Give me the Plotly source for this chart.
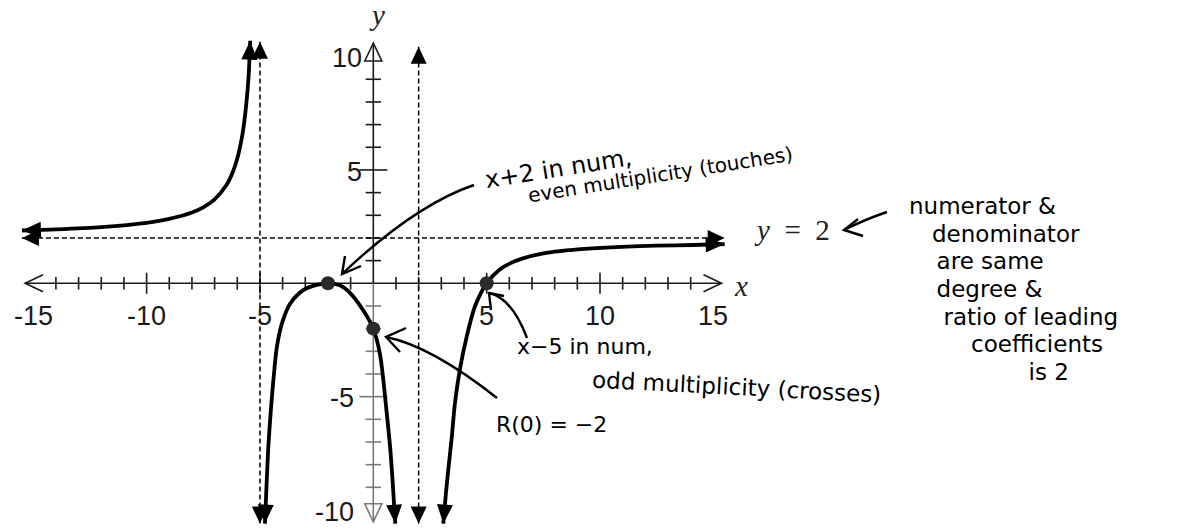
import math
import plotly.graph_objects as go

# ---------------------------------------------------------------
# Page geometry: the graph is laid out on a fixed 1188 x 529 page
# with one graph unit = UNIT pixels and the origin at (OX, OY).
# ---------------------------------------------------------------
W, H = 1188, 529
UNIT = 22.67
OX, OY = 373.3, 283.3


def at(px, py):
    """Page pixel position -> graph coordinates."""
    return (px - OX) / UNIT, (OY - py) / UNIT


# ------------------------------ data ------------------------------
# branch left of x = -5
left_x = [-15.5, -14.0, -12.0, -10.0, -9.0, -8.0, -7.5, -7.0, -6.5, -6.2,
          -6.0, -5.8, -5.7, -5.6, -5.5, -5.43]
left_y = [2.33, 2.38, 2.48, 2.67, 2.84, 3.12, 3.35, 3.70, 4.30, 4.90,
          5.50, 6.41, 7.06, 7.93, 9.15, 10.70]

# branch between x = -5 and x = 2
mid_x = [-4.78, -4.70, -4.63, -4.53, -4.41, -4.26, -4.04, -3.67, -3.09,
         -2.5, -2.0, -1.5, -1.03, -0.44, 0.0, 0.29, 0.44, 0.59, 0.74,
         0.85, 0.97]
mid_y = [-10.6, -8.7, -7.2, -5.75, -4.3, -2.85, -1.8, -0.9, -0.3,
         -0.07, 0.0, -0.08, -0.42, -1.2, -2.0, -3.1, -4.25, -5.7, -7.2,
         -8.7, -10.6]

# branch right of x = 2
right_x = [3.09, 3.2, 3.31, 3.46, 3.6, 3.82, 4.12, 4.49, 5.0, 5.59, 6.03,
           6.6, 7.5, 8.24, 9.5, 11.2, 12.5, 14.1, 15.5]
right_y = [-10.6, -9.3, -8.2, -6.8, -5.3, -3.8, -2.35, -1.0, 0.0, 0.62,
           0.88, 1.1, 1.32, 1.42, 1.53, 1.62, 1.66, 1.69, 1.73]

# marked points: x-intercepts and y-intercept
key_x = [-2, 0, 5]
key_y = [0, -2, 0]

# asymptotes  (x, y_bottom, y_top)  and  (y, x_left, x_right)
vert_asym = [(-5, -10.6, 10.66), (2, -10.6, 10.44)]
horiz_asym = (2, -15.5, 15.5)

# axes
x_axis_ends = (-15.36, 15.36)
y_axis_ends = (-10.52, 10.6)
x_minor = [-14, -13, -12, -11, -9, -8, -7, -6, -4, -3, -2, -1,
           1, 2, 3, 4, 6, 7, 8, 9, 11, 12, 13, 14]
x_major = [-10, -5, 5, 10]
y_minor = [-9, -8, -7, -6, -4, -3, -2, -1, 1, 2, 3, 4, 6, 7, 8, 9]
y_major = [-5, 5]
x_label_vals = [-15, -10, -5, 5, 10, 15]
x_label_text = ["-15", "-10", "-5", "5", "10", "15"]
y_label_vals = [10, 5, -5, -10]
y_label_text = ["10", "5", "-5", "-10"]

# ------------------------------ styles ------------------------------
INK = "#000000"
AXIS = "#1a1a1a"
AXIS_NEG = "#7a7a7a"
TICK_FONT = dict(family="Liberation Sans, Arial, sans-serif", size=27, color="#1a1a1a")
MATH_FONT = dict(family="Liberation Serif, Times New Roman, serif", size=29, color="#222222")
HAND = "DejaVu Sans, sans-serif"

fig = go.Figure()
shapes = []
annotations = []


def seg(x0, y0, x1, y1, color, width):
    shapes.append(dict(type="line", xref="x", yref="y", x0=x0, y0=y0, x1=x1, y1=y1,
                       line=dict(color=color, width=width), layer="below"))


def path(points_px, color=INK, width=2.4, quad=None):
    """Polyline (or quadratic curve when quad=(p0, c, p1)) given in page pixels."""
    if quad is not None:
        (a, b), (c, d), (e, f) = [at(*p) for p in quad]
        p = f"M{a},{b} Q{c},{d} {e},{f}"
    else:
        pts = [at(*q) for q in points_px]
        p = "M" + " L".join(f"{x},{y}" for x, y in pts)
    shapes.append(dict(type="path", xref="x", yref="y", path=p,
                       line=dict(color=color, width=width), layer="above"))


def head(tip, prev, length=19, half=8, color=INK):
    """Filled arrowhead with its point at `tip`, aligned with prev -> tip."""
    tx, ty = tip
    dx, dy = tx - prev[0], ty - prev[1]
    n = math.hypot(dx, dy)
    dx, dy = dx / n, dy / n
    L, w = length / UNIT, half / UNIT
    bx, by = tx - dx * L, ty - dy * L
    p = (f"M{tx},{ty} L{bx - dy * w},{by + dx * w} "
         f"L{bx + dy * w},{by - dx * w} Z")
    shapes.append(dict(type="path", xref="x", yref="y", path=p,
                       fillcolor=color, line=dict(width=0), layer="above"))


# ------------------------------ axes ------------------------------
L_ARM, W_ARM = 18 / UNIT, 8.5 / UNIT
seg(x_axis_ends[0], 0, x_axis_ends[1], 0, AXIS, 1.6)
seg(0, 0, 0, y_axis_ends[1], AXIS, 1.6)
seg(0, y_axis_ends[0], 0, 0, AXIS_NEG, 1.6)


def chevron(tx, ty, dx, dy, color, closed=False):
    # open arrow tip at (tx, ty), pointing along unit vector (dx, dy)
    bx, by = tx - dx * L_ARM, ty - dy * L_ARM
    px_, py_ = -dy * W_ARM, dx * W_ARM
    p = f"M{bx + px_},{by + py_} L{tx},{ty} L{bx - px_},{by - py_}"
    if closed:
        p += " Z"
    shapes.append(dict(type="path", xref="x", yref="y", path=p,
                       line=dict(color=color, width=1.6)))


chevron(x_axis_ends[0], 0, -1, 0, AXIS)
chevron(x_axis_ends[1], 0, 1, 0, AXIS)
chevron(0, y_axis_ends[1], 0, 1, AXIS, closed=True)
chevron(0, y_axis_ends[0], 0, -1, AXIS_NEG, closed=True)

# tick marks
fig.add_trace(go.Scatter(x=x_minor, y=[0] * len(x_minor), mode="markers",
                         marker=dict(symbol="line-ns", size=9, line=dict(width=1.6, color=AXIS)),
                         hoverinfo="skip", showlegend=False))
fig.add_trace(go.Scatter(x=x_major, y=[0] * len(x_major), mode="markers",
                         marker=dict(symbol="line-ns", size=15, line=dict(width=1.6, color=AXIS)),
                         hoverinfo="skip", showlegend=False))
fig.add_trace(go.Scatter(x=[0] * len(y_minor), y=y_minor, mode="markers",
                         marker=dict(symbol="line-ew", size=11,
                                     line=dict(width=1.6,
                                               color=[AXIS if v > 0 else AXIS_NEG for v in y_minor])),
                         hoverinfo="skip", showlegend=False))
fig.add_trace(go.Scatter(x=[0] * len(y_major), y=y_major, mode="markers",
                         marker=dict(symbol="line-ew", size=20,
                                     line=dict(width=1.6,
                                               color=[AXIS if v > 0 else AXIS_NEG for v in y_major])),
                         hoverinfo="skip", showlegend=False))

# tick labels
for v, t in zip(x_label_vals, x_label_text):
    annotations.append(dict(x=v, y=-1.45, xref="x", yref="y", text=t, showarrow=False,
                            xanchor="center", yanchor="middle", font=TICK_FONT))
for v, t in zip(y_label_vals, y_label_text):
    annotations.append(dict(x=-0.42 if v > 0 else -0.75, y=v - 0.08, xref="x", yref="y", text=t,
                            showarrow=False, xanchor="right", yanchor="middle", font=TICK_FONT))

# axis names
annotations.append(dict(x=0.18, y=11.85, xref="x", yref="y", text="<i>y</i>", showarrow=False,
                        font=MATH_FONT))
annotations.append(dict(x=16.2, y=-0.1, xref="x", yref="y", text="<i>x</i>", showarrow=False,
                        font=MATH_FONT))

# ------------------------------ asymptotes ------------------------------
DASH = "5px,3px"
for ax, y0, y1 in vert_asym:
    fig.add_trace(go.Scatter(x=[ax, ax], y=[y0, y1], mode="lines",
                             line=dict(color=INK, width=1.5, dash=DASH),
                             hoverinfo="skip", showlegend=False))
    head((ax, y0), (ax, y1), length=17, half=8)
    head((ax, y1), (ax, y0), length=17, half=8)
hy, hx0, hx1 = horiz_asym
fig.add_trace(go.Scatter(x=[hx0, hx1], y=[hy, hy], mode="lines",
                         line=dict(color=INK, width=1.5, dash=DASH),
                         hoverinfo="skip", showlegend=False))
head((hx0, hy), (hx1, hy), length=17, half=8)
head((hx1, hy), (hx0, hy), length=17, half=8)

# ------------------------------ curve ------------------------------
for bx, by in [(left_x, left_y), (mid_x, mid_y), (right_x, right_y)]:
    fig.add_trace(go.Scatter(x=bx, y=by, mode="lines",
                             line=dict(color=INK, width=3.8, shape="spline", smoothing=0.8),
                             hoverinfo="skip", showlegend=False))
    head((bx[0], by[0]), (bx[1], by[1]))
    head((bx[-1], by[-1]), (bx[-2], by[-2]))

fig.add_trace(go.Scatter(x=key_x, y=key_y, mode="markers",
                         marker=dict(size=14, color="#2b2b2b"),
                         hoverinfo="skip", showlegend=False))


# ------------------------------ notes ------------------------------
def note(px, py, text, size, angle=0, align="center", base=None):
    x, y = at(px, py)
    annotations.append(dict(x=x, y=y, xref="x", yref="y", text=text, showarrow=False,
                            textangle=angle, xanchor="center", yanchor="middle", align=align,
                            font=dict(family=HAND, size=base or size, color=INK)))


def big(text, size):
    return f"<span style='font-size:{size}px'>{text}</span>"


EN, THIN = "\u2002", "\u2009"

# y = 2 label
x2, y2 = at(792, 230)
annotations.append(dict(x=x2, y=y2, xref="x", yref="y", text="<i>y</i>\u2002=\u20022",
                        showarrow=False, font=MATH_FONT))

# touching zero
note(639, 166,
     big("x+2 in num,", 24) + "<br>" + big(EN * 4 + "even multiplicity (touches)", 20),
     20, angle=-9, align="left", base=16)
path(None, quad=[(474, 185), (415, 205), (342, 274)])
path([(345, 256), (342, 274), (361, 266)])

# crossing zero
note(585, 346, "x\u22125 in num,", 22)
note(736, 387, "odd multiplicity (crosses)", 23, 3)
path(None, quad=[(527, 338), (512, 298), (489, 293)])
path([(504, 296), (489, 293), (491, 310)])

# y-intercept
note(551, 424, "R(0) = \u22122", 22)
path(None, quad=[(497, 398), (431, 346), (386, 337)])
path([(406, 328), (386, 337), (400, 352)])

# horizontal asymptote reasoning
path(None, quad=[(887, 212), (866, 219), (844, 230)])
path([(858, 219), (844, 230), (863, 236)])
reason_lines = [
    "numerator &amp;",
    EN * 2 + "denominator",
    EN * 2 + THIN + "are same",
    EN * 2 + THIN + "degree &amp;",
    EN * 3 + "ratio of leading",
    EN * 5 + THIN + "coefficients",
    EN * 10 + THIN + "is 2",
]
note(1013, 289, "<br>".join(big(t, 23) for t in reason_lines),
     23, align="left", base=21.3)

# ------------------------------ layout ------------------------------
x_lo, y_top = at(0, 0)
x_hi, y_bot = at(W, H)
fig.update_layout(
    width=W, height=H,
    margin=dict(l=0, r=0, t=0, b=0),
    paper_bgcolor="white", plot_bgcolor="white",
    xaxis=dict(range=[x_lo, x_hi], visible=False, fixedrange=True),
    yaxis=dict(range=[y_bot, y_top], visible=False, fixedrange=True),
    shapes=shapes, annotations=annotations, showlegend=False,
)
fig.write_html("out.html")
